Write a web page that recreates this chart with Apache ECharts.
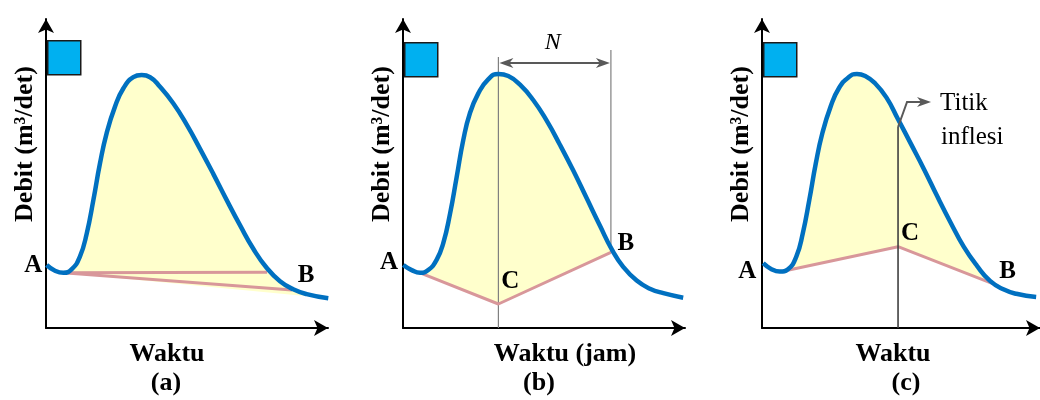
<!DOCTYPE html>
<html>
<head>
<meta charset="utf-8">
<script src="https://cdn.jsdelivr.net/npm/echarts@6/dist/echarts.min.js"></script>
<style>
  html, body { margin: 0; padding: 0; background: #fff; }
  #chart { width: 1040px; height: 400px; }
</style>
</head>
<body>
<div id="chart"></div>
<script>
// Storm hydrographs (time vs. discharge) and three ways of separating baseflow.

// (a) straight-line separation
const hydroA = [[0.2,21.0],[3.0,19.1],[5.8,18.4],[8.6,19.6],[11.3,23.8],[13.6,31.6],[15.8,42.7],[18.0,54.9],[20.2,64.9],[23.0,73.8],[25.8,79.9],[29.1,83.6],[31.9,84.3],[34.7,83.6],[38.0,80.4],[42.4,74.9],[46.9,67.8],[51.3,59.8],[55.8,51.3],[60.2,42.7],[64.7,34.2],[69.1,26.4],[73.6,20.0],[78.0,15.6],[82.4,12.9],[86.9,11.3],[94.1,9.9]];
const baseA1 = [[5.8,18.4],[73.7,18.6]];
const baseA2 = [[5.8,18.4],[82.0,12.7]];

// (b) fixed base length: recession point B lies N hours after the peak
const hydroB = [[0.1,21.0],[2.9,19.3],[5.7,18.4],[8.4,19.3],[11.2,22.7],[13.4,28.2],[15.7,38.2],[17.9,50.4],[20.1,62.7],[22.3,71.6],[25.1,78.2],[28.4,82.9],[31.8,84.7],[35.1,84.0],[39.0,81.1],[43.4,76.0],[47.9,69.1],[52.3,61.1],[56.8,52.4],[61.2,43.3],[65.7,34.0],[69.6,26.2],[73.4,20.4],[77.9,15.8],[82.3,13.1],[86.8,11.6],[93.4,10.1]];
const baseB = [[5.7,18.4],[31.8,8.0],[69.3,25.2]];   // A, C, B
const guideTopB = [90.3, 92.7];                       // tops of the peak and B guide lines
const nLevel = 88.3;                                  // height of the N dimension arrow

// (c) separation through the inflection point
const hydroC = [[0.4,21.6],[3.2,19.6],[6.0,18.8],[8.8,19.6],[11.6,23.8],[13.8,31.6],[16.0,42.7],[18.2,54.9],[20.4,64.9],[23.2,73.8],[26.0,79.9],[29.3,83.6],[32.1,84.7],[34.9,84.0],[38.2,81.6],[42.1,76.8],[46.0,69.6],[50.4,61.3],[54.9,52.7],[59.3,43.8],[63.8,35.1],[68.2,27.1],[72.7,20.7],[77.1,15.7],[81.6,12.9],[86.0,11.4],[92.7,10.3]];
const baseC = [[7.5,19.0],[46.0,27.1],[79.3,14.3]];   // A, C, B
const inflectionC = [46.0, 67.0];

const xTitles = ['Waktu', 'Waktu (jam)', 'Waktu'];
const yTitle = 'Debit (m³/det)';
const panelTags = ['(a)', '(b)', '(c)'];
const inflectionText = ['Titik', 'inflesi'];

const SERIF = '"Liberation Serif", "Times New Roman", serif';
const BLUE = '#0070c0';
const PINK = '#d8979a';
const FILL = '#ffffcc';

const gridLeft = [46, 403, 762];
const gridTop = 19, gridW = 282, gridH = 309;

const grids = gridLeft.map(l => ({ left: l, top: gridTop, width: gridW, height: gridH }));
const axisLine = {
  show: true, symbol: ['none', 'arrow'], symbolSize: [12, 14],
  lineStyle: { color: '#000', width: 2 }
};
const xAxes = gridLeft.map((_, i) => ({
  type: 'value', gridIndex: i, min: 0, max: 94,
  axisLine, axisTick: { show: false }, axisLabel: { show: false }, splitLine: { show: false }
}));
const yAxes = gridLeft.map((_, i) => ({
  type: 'value', gridIndex: i, min: 0, max: 103,
  axisLine, axisTick: { show: false }, axisLabel: { show: false }, splitLine: { show: false }
}));

// yellow direct-runoff area between the hydrograph and the separation line
function runoffArea(i, pts) {
  return {
    type: 'custom', xAxisIndex: i, yAxisIndex: i, z: 1, clip: false, silent: true,
    data: [[0, 0]],
    renderItem: (params, api) => ({
      type: 'polygon',
      shape: { points: pts.map(p => api.coord(p)) },
      style: { fill: FILL }
    })
  };
}
function curve(i, data) {
  return {
    type: 'line', xAxisIndex: i, yAxisIndex: i, data, smooth: 0.5, showSymbol: false,
    clip: false, z: 6, silent: true, lineStyle: { color: BLUE, width: 4.5 }
  };
}
function segLine(i, data, color, width, z) {
  return {
    type: 'line', xAxisIndex: i, yAxisIndex: i, data, showSymbol: false,
    clip: false, z, silent: true, lineStyle: { color, width }
  };
}
function pointLabels(i, items) {
  return {
    type: 'custom', xAxisIndex: i, yAxisIndex: i, z: 8, clip: false, silent: true,
    data: [[0, 0]],
    renderItem: (params, api) => ({
      type: 'group',
      children: items.map(([name, p, off]) => {
        const c = api.coord(p);
        return {
          type: 'text', x: c[0] + off[0], y: c[1] + off[1],
          style: { text: name, font: 'bold 25px ' + SERIF, fill: '#000', align: 'center', verticalAlign: 'middle' }
        };
      })
    })
  };
}
function arrowHead(tip, dir, color) {
  // filled, notched head pointing along dir (+1 right, -1 left)
  const d = -dir;
  return {
    type: 'polygon',
    shape: { points: [[tip[0], tip[1]], [tip[0] + d * 14, tip[1] - 5], [tip[0] + d * 10, tip[1]], [tip[0] + d * 14, tip[1] + 5]] },
    style: { fill: color }
  };
}

const areaA = hydroA.filter(p => p[0] >= baseA1[0][0]);
const areaB = hydroB.filter(p => p[0] > baseB[0][0] && p[0] < baseB[2][0]).concat([baseB[2], baseB[1], baseB[0]]);
const areaC = hydroC.filter(p => p[0] > baseC[0][0] && p[0] < baseC[2][0]).concat([baseC[2], baseC[1], baseC[0]]);

const series = [
  // (a)
  runoffArea(0, areaA),
  segLine(0, baseA1, PINK, 3, 3),
  segLine(0, baseA2, PINK, 3, 3),
  curve(0, hydroA),
  pointLabels(0, [['A', baseA1[0], [-30, -7]], ['B', baseA2[1], [14, -14]]]),

  // (b)
  runoffArea(1, areaB),
  segLine(1, [[baseB[1][0], 0], [baseB[1][0], guideTopB[0]]], '#808080', 1.2, 2),
  segLine(1, [baseB[2], [baseB[2][0], guideTopB[1]]], '#808080', 1.2, 2),
  segLine(1, baseB, PINK, 3, 3),
  curve(1, hydroB),
  {
    type: 'custom', xAxisIndex: 1, yAxisIndex: 1, z: 7, clip: false, silent: true,
    data: [[0, 0]],
    renderItem: (params, api) => {
      const p1 = api.coord([baseB[1][0], nLevel]);
      const p2 = api.coord([baseB[2][0], nLevel]);
      const c = '#595959';
      return {
        type: 'group', children: [
          { type: 'line', shape: { x1: p1[0] + 6, y1: p1[1], x2: p2[0] - 6, y2: p2[1] }, style: { stroke: c, lineWidth: 2 } },
          arrowHead([p1[0] + 1, p1[1]], -1, c),
          arrowHead([p2[0] - 1, p2[1]], 1, c),
          { type: 'text', x: (p1[0] + p2[0]) / 2 - 2, y: p1[1] - 20,
            style: { text: 'N', font: 'italic 24px ' + SERIF, fill: '#000', align: 'center', verticalAlign: 'middle' } }
        ]
      };
    }
  },
  pointLabels(1, [['A', baseB[0], [-31, -10]], ['C', baseB[1], [12, -22]], ['B', baseB[2], [15, -9]]]),

  // (c)
  runoffArea(2, areaC),
  segLine(2, [[inflectionC[0], 0], inflectionC], '#404040', 1.6, 4),
  segLine(2, baseC, PINK, 3, 3),
  curve(2, hydroC),
  {
    type: 'custom', xAxisIndex: 2, yAxisIndex: 2, z: 7, clip: false, silent: true,
    data: [[0, 0]],
    renderItem: (params, api) => {
      const p = api.coord(inflectionC);
      const c = '#595959';
      const bend = [p[0] + 9, p[1] - 25];
      const tip = [bend[0] + 24, bend[1]];
      const tf = '25px ' + SERIF;
      return {
        type: 'group', children: [
          { type: 'polyline', shape: { points: [p, bend, [tip[0] - 6, tip[1]]] }, style: { stroke: c, lineWidth: 2, fill: null } },
          arrowHead(tip, 1, c),
          { type: 'text', x: tip[0] + 9, y: tip[1] + 1,
            style: { text: inflectionText[0], font: tf, fill: '#000', align: 'left', verticalAlign: 'middle' } },
          { type: 'text', x: tip[0] + 10, y: tip[1] + 35,
            style: { text: inflectionText[1], font: tf, fill: '#000', align: 'left', verticalAlign: 'middle' } }
        ]
      };
    }
  },
  pointLabels(2, [['A', baseC[0], [-37, 1]], ['C', baseC[1], [12, -13]], ['B', baseC[2], [11, -14]]])
];

// rainfall blocks, axis titles and panel tags
const titleFont = 'bold 26px ' + SERIF;
const xTitleX = [167, 565, 893];
const tagX = [166, 539, 906];
const graphic = [];
gridLeft.forEach((l, i) => {
  graphic.push({
    type: 'rect', left: l + 1, top: 40 + (i ? 2 : 0), shape: { width: 33, height: 34 },
    style: { fill: '#00b0f0', stroke: '#1a1a1a', lineWidth: 1.5 }, z: 10
  });
  graphic.push({
    type: 'text', x: l - 21, y: 144, rotation: Math.PI / 2,
    style: { text: yTitle, font: titleFont, fill: '#000', align: 'center', verticalAlign: 'middle' }
  });
  graphic.push({
    type: 'text', x: xTitleX[i], y: 354,
    style: { text: xTitles[i], font: titleFont, fill: '#000', align: 'center', verticalAlign: 'middle' }
  });
  graphic.push({
    type: 'text', x: tagX[i], y: 383,
    style: { text: panelTags[i], font: titleFont, fill: '#000', align: 'center', verticalAlign: 'middle' }
  });
});

const chart = echarts.init(document.getElementById('chart'), null, { renderer: 'canvas' });
chart.setOption({
  animation: false,
  backgroundColor: '#fff',
  grid: grids,
  xAxis: xAxes,
  yAxis: yAxes,
  series,
  graphic
});
</script>
</body>
</html>
